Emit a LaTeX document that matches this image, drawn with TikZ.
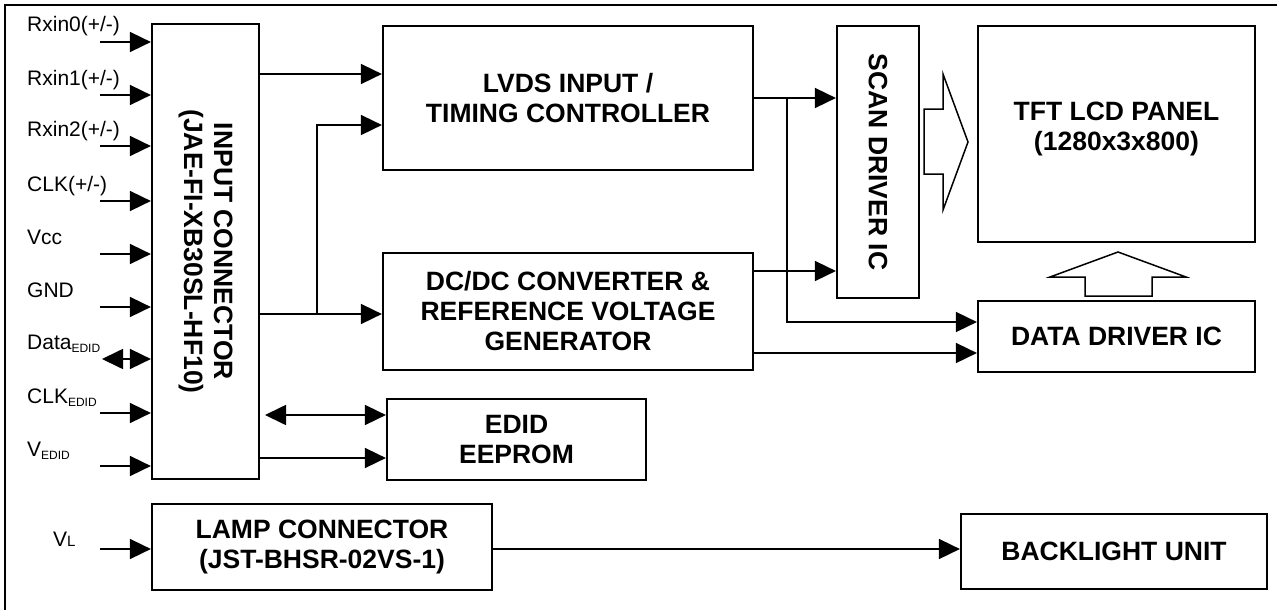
\documentclass[tikz,border=0pt]{standalone}
\usepackage{fontspec}
\setmainfont{Liberation Sans}
\usetikzlibrary{arrows.meta}
\newcommand{\lowtxt}[1]{\raisebox{-3pt}{\fontsize{12}{12}\selectfont #1}}
\newcommand{\tipsz}{length=21pt,width=20pt}
\tikzset{
    boldtxt/.style={font=\fontsize{26.5}{30}\selectfont\bfseries, align=center},
    blk/.style={draw, line width=2.2pt, inner sep=0pt, boldtxt},
    sigtxt/.style={anchor=base west, inner sep=0pt, font=\fontsize{21}{24}\selectfont},
    arr/.style={line width=1.7pt, -{Triangle[\tipsz]}},
    darr/.style={line width=1.7pt, {Triangle[\tipsz]}-{Triangle[\tipsz]}},
    fatarr/.style={draw, line width=1.5pt, line join=miter}
}

\begin{document}
\begin{tikzpicture}[x=1pt,y=-1pt]
    %\draw[help lines] (0,0) grid[step=50] (1277,610);
    \useasboundingbox (0,0) rectangle (1277,610);
    \draw[line width=2pt] (5,610) -- (5,5) -- (1277,5);

    % blocks
    \node[blk, minimum width=107, minimum height=455] (inconn) at (205.5,251.5) {};
    \node[boldtxt, rotate=-90] (inconntxt) at (inconn.center) {INPUT CONNECTOR\\(JAE-FI-XB30SL-HF10)};
    \node[blk, minimum width=370, minimum height=144] (lvds) at (568,98) {LVDS INPUT /\\TIMING CONTROLLER};
    \node[blk, minimum width=370, minimum height=117] (dcdc) at (568,311.5) {DC/DC CONVERTER \&\\REFERENCE VOLTAGE\\GENERATOR};
    \node[blk, minimum width=259, minimum height=81] (edid) at (516.5,439.5) {EDID\\EEPROM};
    \node[blk, minimum width=82, minimum height=272] (scan) at (878,162) {};
    \node[boldtxt, rotate=-90] (scantxt) at (scan.center) {SCAN DRIVER IC};
    \node[blk, minimum width=277, minimum height=216] (panel) at (1116.5,134) {};
    \node[boldtxt] (paneltxt) at ([yshift=5pt]panel.center) {TFT LCD PANEL\\(1280x3x800)};
    \node[blk, minimum width=277, minimum height=71] (ddrv) at (1116.5,336.5) {DATA DRIVER IC};
    \node[blk, minimum width=340, minimum height=86] (lamp) at (322,547) {LAMP CONNECTOR\\(JST-BHSR-02VS-1)};
    \node[blk, minimum width=306, minimum height=75] (blu) at (1114,551.5) {BACKLIGHT UNIT};

    % input signals
    \foreach \y/\txt [count=\i] in {42/{Rxin0(+/-)},95/{Rxin1(+/-)},146/{Rxin2(+/-)},201/{CLK(+/-)},254/Vcc,307/GND,413/{CLK\lowtxt{EDID}},466/{V\lowtxt{EDID}}}
    {
        \coordinate (in\i) at (100,\y);
        \node[sigtxt] (sig\i) at (27,\y-10) {\txt};
        \draw[arr] (in\i) -- (inconn.west |- in\i);
    }
    \coordinate (indata) at (102,359);
    \node[sigtxt] (sigdata) at (27,349) {Data\lowtxt{EDID}};
    \draw[darr] (indata) -- (inconn.west |- indata);
    \coordinate (invl) at (100,549);
    \node[sigtxt] (sigvl) at (53,546) {V{\fontsize{15}{15}\selectfont L}};
    \draw[arr] (invl) -- (lamp.west |- invl);

    % connections
    \draw[arr] (inconn.east |- 0,74) -- (lvds.west |- 0,74);
    \coordinate (jc) at (317,314);
    \draw[arr] (inconn.east |- jc) -- (dcdc.west |- jc);
    \draw[arr] (jc) |- (lvds.west |- 0,125);
    \coordinate (jl) at (787,98);
    \draw[arr] (lvds.east |- jl) -- (scan.west |- jl);
    \draw[arr] (jl) |- (ddrv.west |- 0,322);
    \draw[arr] (dcdc.east |- 0,271) -- (scan.west |- 0,271);
    \draw[arr] (dcdc.east |- 0,353) -- (ddrv.west |- 0,353);
    \coordinate (edidbus) at (265,415);
    \draw[darr] (edidbus) -- (edid.west |- edidbus);
    \draw[arr] (inconn.east |- 0,458) -- (edid.west |- 0,458);
    \draw[arr] (lamp.east |- 0,549) -- (blu.west |- 0,549);

    % hollow arrows to the panel
    \draw[fatarr] (924,109) -- (943,109) -- (943,74) -- (968,142) -- (943,210) -- (943,174) -- (924,174) -- cycle;
    \draw[fatarr] (1085,296) -- (1085,277) -- (1050,277) -- (1118,252) -- (1186,277) -- (1152,277) -- (1152,296) -- cycle;
\end{tikzpicture}
\end{document}
